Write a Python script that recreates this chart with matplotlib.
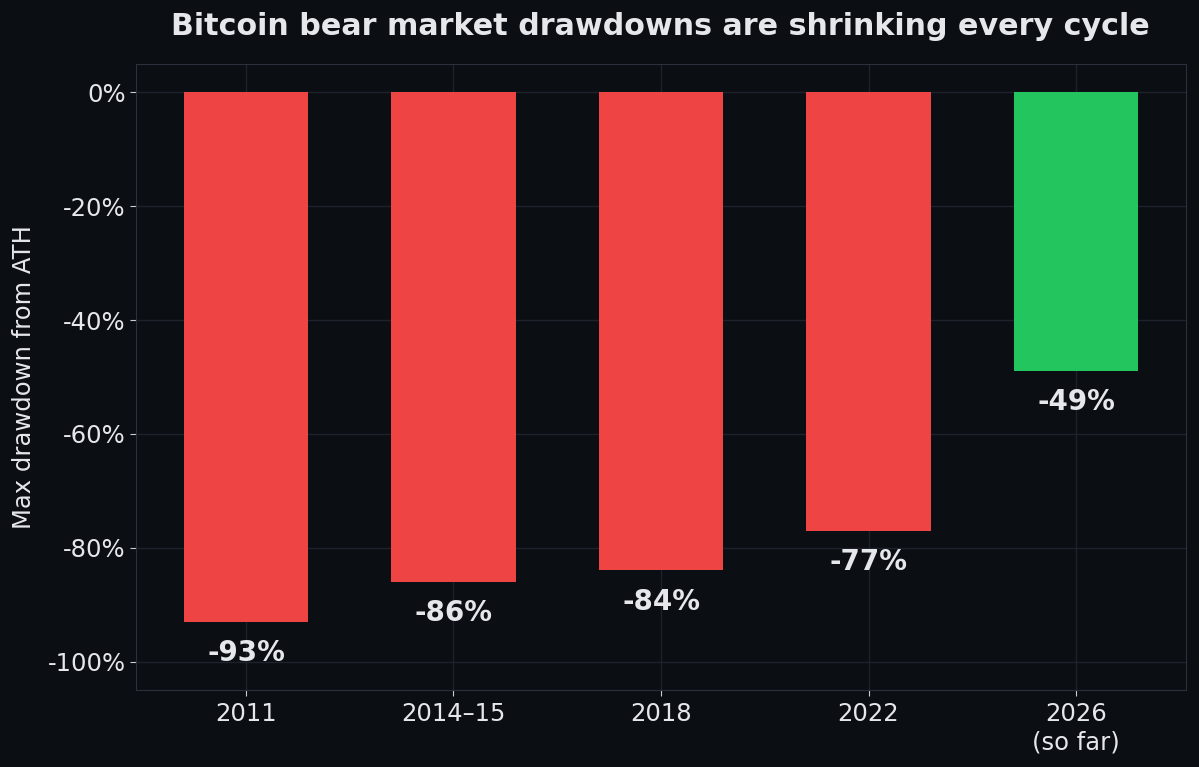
import matplotlib.pyplot as plt
from matplotlib.ticker import FuncFormatter

# data
cycles = ["2011", "2014–15", "2018", "2022", "2026\n(so far)"]
drawdowns = [-93, -86, -84, -77, -49]
bar_colors = ["#ef4444", "#ef4444", "#ef4444", "#ef4444", "#22c55e"]
yticks = [0, -20, -40, -60, -80, -100]

BG = "#0b0e13"
FG = "#e5e7eb"
GRID = "#1e222b"
SPINE = "#2b303b"

fig = plt.figure(figsize=(11.99, 7.67), dpi=100, facecolor=BG)
ax = fig.add_axes([0.1134, 0.1004, 0.8758, 0.8162])
ax.set_facecolor(BG)

x = range(len(cycles))
ax.bar(x, drawdowns, width=0.6, color=bar_colors, zorder=3)

for xi, v in zip(x, drawdowns):
    ax.text(xi, v - 3.0, f"{v}%", ha="center", va="top",
            color=FG, fontsize=20, fontweight="bold", zorder=4)

ax.set_ylim(-105, 5)
ax.set_yticks(yticks)
ax.yaxis.set_major_formatter(FuncFormatter(lambda v, _: f"{v:.0f}%"))
ax.set_xticks(list(x))
ax.set_xticklabels(cycles)

ax.tick_params(colors="#c9ccd2", labelcolor=FG, labelsize=17.5, length=4, width=0.8)
ax.tick_params(axis="x", pad=5)
ax.grid(True, color=GRID, linewidth=1, zorder=0)
for s in ax.spines.values():
    s.set_color(SPINE)

ax.set_ylabel("Max drawdown from ATH", color=FG, fontsize=17.5, labelpad=8)
fig.suptitle("Bitcoin bear market drawdowns are shrinking every cycle",
             color=FG, fontsize=21.7, fontweight="bold", x=0.551, y=0.985)

fig.savefig("out.png", dpi=100, facecolor=BG)
